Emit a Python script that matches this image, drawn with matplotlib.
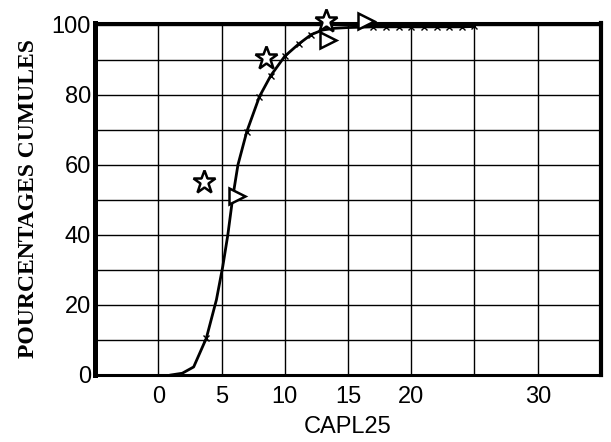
import matplotlib
matplotlib.use("Agg")
import matplotlib.pyplot as plt
import numpy as np

## Courbe cumulee
capl = [1.0, 1.9, 2.8, 3.8, 4.6, 5.1, 5.5, 5.9, 6.3, 7.0, 8.0, 8.9, 10.0, 11.1,
        12.1, 13.0, 14.0, 15.0, 16.0, 17.0, 18.0, 19.0, 20.0, 21.0, 22.0, 23.0, 24.0, 25.0]
cum = [0.0, 0.5, 2.3, 10.5, 21.5, 31.0, 40.0, 51.0, 60.0, 69.5, 79.5, 85.5, 91.0, 94.5,
       97.2, 98.5, 99.0, 99.2, 99.3, 99.4, 99.4, 99.4, 99.4, 99.4, 99.4, 99.4, 99.4, 99.5]
tick_marks = [3, 9, 10, 11, 12, 13, 14, 19, 20, 21, 22, 23, 24, 25, 26, 27]

## Points observes
star_x = [3.6, 8.5, 13.3]
star_y = [55.0, 90.5, 101.0]
tri_x = [6.2, 13.4, 16.4]
tri_y = [51.0, 95.5, 101.0]

xtick_vals = [0, 5, 10, 15, 20, 25, 30]
xtick_labels = ["0", "5", "10", "15", "20", "", "30"]
ytick_vals = [0, 20, 40, 60, 80, 100]

sans = ["Liberation Sans Narrow", "Liberation Sans", "DejaVu Sans"]

fig = plt.figure(figsize=(6.11, 4.42), dpi=100)
ax = fig.add_axes([0.1555, 0.1516, 0.8281, 0.7964])

ax.plot(capl, cum, c="black", lw=2, marker="x", ms=4, mew=1, markevery=tick_marks, zorder=3)
ax.plot(star_x, star_y, ls="none", marker="*", ms=17, mfc="white", mec="black", mew=1.8,
        clip_on=False, zorder=4)
ax.plot(tri_x, tri_y, ls="none", marker=">", ms=12, mfc="white", mec="black", mew=1.8,
        clip_on=False, zorder=4)

ax.set_xlim(-5, 35)
ax.set_ylim(0, 100.5)
ax.set_xticks(xtick_vals)
ax.set_xticklabels(xtick_labels, family=sans, fontsize=17)
ax.set_yticks(ytick_vals)
ax.set_yticklabels([str(v) for v in ytick_vals], family=sans, fontsize=17)
ax.set_yticks(np.arange(10, 100, 20), minor=True)
ax.tick_params(which="both", length=0)
ax.tick_params(axis="x", pad=8)
ax.tick_params(axis="y", pad=3)
ax.grid(True, which="both", color="black", lw=1)
ax.set_axisbelow(True)

for side, w in [("left", 3.6), ("bottom", 2.2), ("top", 2.2), ("right", 3.0)]:
    ax.spines[side].set_linewidth(w)

ax.set_xlabel("CAPL25", family=sans, fontsize=17, labelpad=6)
ax.set_ylabel("POURCENTAGES CUMULES", family=["Liberation Serif", "DejaVu Serif"],
              fontweight="bold", fontsize=17, labelpad=9)

fig.savefig("out.png", dpi=100)
